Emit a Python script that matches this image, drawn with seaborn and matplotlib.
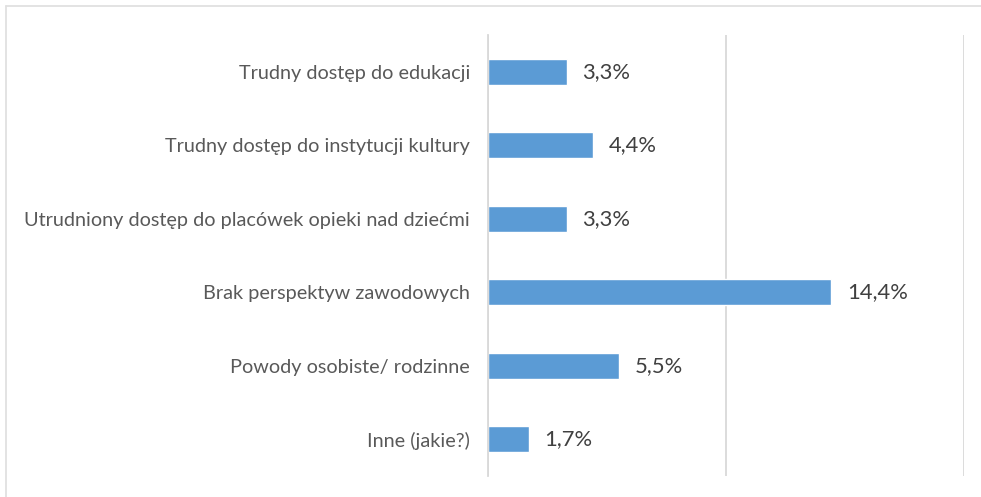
import pandas as pd
import seaborn as sns
import matplotlib.pyplot as plt
from matplotlib.lines import Line2D

sns.set_style('white')
plt.rcParams['font.family'] = ['Lato', 'DejaVu Sans']

categories = ['Trudny dostęp do edukacji',
              'Trudny dostęp do instytucji kultury',
              'Utrudniony dostęp do placówek opieki nad dziećmi',
              'Brak perspektyw zawodowych',
              'Powody osobiste/ rodzinne',
              'Inne (jakie?)']
values = [3.3, 4.4, 3.3, 14.4, 5.5, 1.7]
value_labels = ['3,3%', '4,4%', '3,3%', '14,4%', '5,5%', '1,7%']

df = pd.DataFrame({'kat': categories, 'proc': values})

fig = plt.figure(figsize=(9.81, 4.97), dpi=100)
ax = fig.add_axes([0.4975, 0.0423, 0.9827 - 0.4975, 0.9296 - 0.0423])

sns.barplot(data=df, x='proc', y='kat', color='#5B9BD5', saturation=1,
            width=0.36, ax=ax)

ax.set_xlim(0, 20)
ax.set_xticks([0, 10, 20])
ax.xaxis.grid(True, color='#D9D9D9', linewidth=1.3)
ax.set_axisbelow(True)
ax.tick_params(axis='x', labelbottom=False, length=0)
ax.tick_params(axis='y', length=0, pad=13, labelsize=14.3, labelcolor='#595959')
ax.set_xlabel('')
ax.set_ylabel('')
for s in ['top', 'right', 'bottom']:
    ax.spines[s].set_visible(False)
ax.spines['left'].set_color('#D9D9D9')
ax.spines['left'].set_linewidth(1.3)

for i, (v, lab) in enumerate(zip(values, value_labels)):
    ax.annotate(lab, (v, i), xytext=(11.5, 0), textcoords='offset points',
                va='center', ha='left', fontsize=15.8, color='#404040')

# chart frame (top and left edges)
fig.add_artist(Line2D([6 / 981, 6 / 981], [0, 1 - 6 / 497], transform=fig.transFigure,
                      color='#E0E0E0', linewidth=1.3))
fig.add_artist(Line2D([6 / 981, 1], [1 - 6 / 497, 1 - 6 / 497], transform=fig.transFigure,
                      color='#E0E0E0', linewidth=1.3))

fig.savefig('out.png', dpi=100)
